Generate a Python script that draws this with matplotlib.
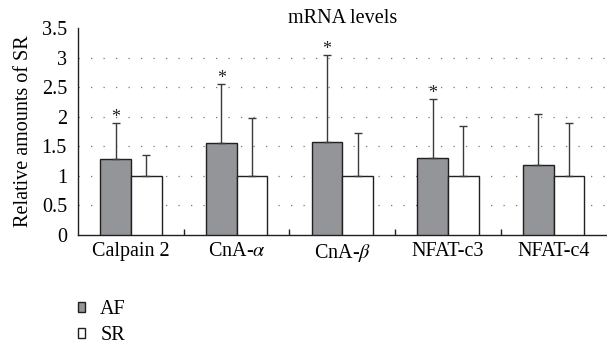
import numpy as np
import matplotlib.pyplot as plt

plt.rcParams['font.family'] = ['Liberation Serif', 'DejaVu Serif']
plt.rcParams['mathtext.fontset'] = 'stix'

genes = ['Calpain 2', r'CnA-$\alpha$', r'CnA-$\beta$', 'NFAT-c3', 'NFAT-c4']
af_mean = [1.28, 1.55, 1.58, 1.30, 1.19]
af_err = [0.62, 1.00, 1.46, 1.00, 0.86]
sr_mean = [1.0, 1.0, 1.0, 1.0, 1.0]
sr_err = [0.35, 0.98, 0.73, 0.85, 0.89]
signif = [True, True, True, True, False]

x = np.arange(len(genes))
w = 0.29

fig = plt.figure(figsize=(6.07, 3.47), dpi=100)
ax = fig.add_axes([0.1285, 0.3228, 0.871, 0.5965])

ekw = dict(ecolor='#3a3a3a', elinewidth=1.0, capsize=3, capthick=1.0)
ax.bar(x - w/2, af_mean, w, color='#939598', edgecolor='#231f20', linewidth=1.0,
       yerr=[np.zeros(5), af_err], error_kw=ekw, label='AF', zorder=3)
ax.bar(x + w/2, sr_mean, w, color='white', edgecolor='#231f20', linewidth=1.0,
       yerr=[np.zeros(5), sr_err], error_kw=ekw, label='SR', zorder=3)

for i in range(len(genes)):
    if signif[i]:
        ax.text(x[i] - w/2, af_mean[i] + af_err[i] - 0.05, '*', ha='center', va='bottom',
                fontsize=13, color='#231f20')

ax.set_xlim(-0.5, len(genes) - 0.5)
ax.set_ylim(0, 3.5)
ax.set_yticks(np.arange(0, 3.51, 0.5))
ax.set_yticklabels(['0', '0.5', '1', '1.5', '2', '2.5', '3', '3.5'])
ax.set_xticks(x)
ax.set_xticklabels(genes)
ax.set_xticks(np.arange(0.5, len(genes) - 0.5, 1), minor=True)
ax.tick_params(axis='x', which='major', length=0, labelsize=14.5, pad=5)
ax.tick_params(axis='x', which='minor', direction='in', length=4, width=1, color='#231f20')
ax.tick_params(axis='y', length=0, labelsize=14.5, pad=8)

for v in np.arange(0.5, 3.01, 0.5):
    ax.axhline(v, color='#777777', linewidth=0.9, linestyle=(0, (1, 9)), zorder=1)

for s in ['top', 'right']:
    ax.spines[s].set_visible(False)
for s in ['left', 'bottom']:
    ax.spines[s].set_color('#231f20')
    ax.spines[s].set_linewidth(1.0)

ax.set_ylabel('Relative amounts of SR', fontsize=14.5, labelpad=6)
ax.set_title('mRNA levels', fontsize=14.5, pad=3)

fig.legend(loc='upper left', bbox_to_anchor=(0.1285, 0.135), frameon=False, fontsize=14.5,
           borderpad=0, borderaxespad=0,
           handlelength=0.35, handleheight=0.35, handletextpad=0.75, labelspacing=0.35)

plt.savefig('out.png', dpi=100)
